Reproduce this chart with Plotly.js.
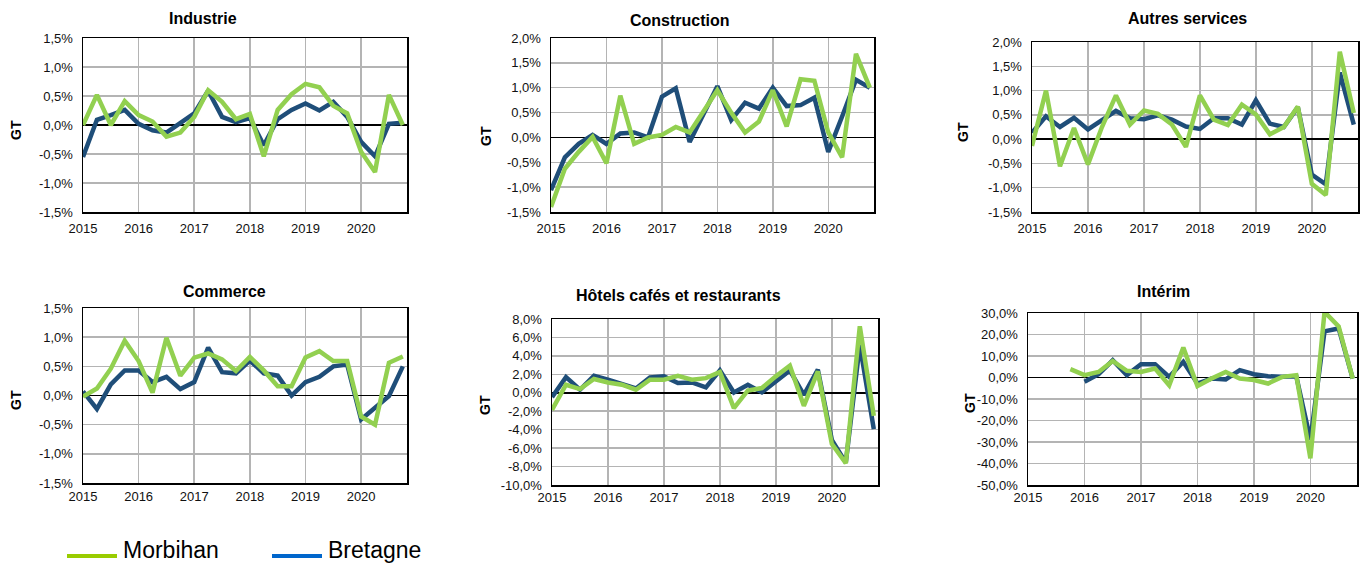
<!DOCTYPE html>
<html><head><meta charset="utf-8">
<script src="https://cdn.plot.ly/plotly-3.0.1.min.js"></script>
<style>html,body{margin:0;padding:0;background:#fff;}#chart{width:1361px;height:565px;}</style>
</head><body><div id="chart"></div>
<script>
const quarters = ['2015T1','2015T2','2015T3','2015T4','2016T1','2016T2','2016T3','2016T4',
  '2017T1','2017T2','2017T3','2017T4','2018T1','2018T2','2018T3','2018T4',
  '2019T1','2019T2','2019T3','2019T4','2020T1','2020T2','2020T3','2020T4'];
const yearTicks = ['2015T1','2016T1','2017T1','2018T1','2019T1','2020T1'];
const yearLabels = ['2015','2016','2017','2018','2019','2020'];
const seriesNames = ['Morbihan','Bretagne'];
const panelTitles = ['Industrie','Construction','Autres services','Commerce','Hôtels cafés et restaurants','Intérim'];

const industrieMorbihan = [0, 0.52, 0, 0.41, 0.17, 0.06, -0.2, -0.13, 0.14, 0.6, 0.4, 0.1, 0.19, -0.54, 0.26, 0.53, 0.71, 0.65, 0.33, 0.2, -0.46, -0.81, 0.52, 0];
const industrieBretagne = [-0.55, 0.09, 0.17, 0.26, 0.02, -0.09, -0.13, 0.03, 0.2, 0.59, 0.14, 0.05, 0.12, -0.35, 0.1, 0.26, 0.37, 0.25, 0.4, 0.14, -0.29, -0.54, 0.02, 0.04];
const constructionMorbihan = [-1.4, -0.63, -0.29, 0.01, -0.52, 0.84, -0.13, 0, 0.05, 0.21, 0.1, 0.52, 0.95, 0.5, 0.1, 0.32, 0.95, 0.22, 1.17, 1.14, 0.1, -0.4, 1.68, 1.0];
const constructionBretagne = [-1.06, -0.4, -0.13, 0.05, -0.13, 0.08, 0.1, 0, 0.82, 0.99, -0.09, 0.47, 1.03, 0.35, 0.7, 0.58, 1.0, 0.63, 0.65, 0.8, -0.29, 0.42, 1.16, 1.0];
const autresMorbihan = [-0.14, 1.0, -0.56, 0.23, -0.52, 0.25, 0.9, 0.3, 0.59, 0.52, 0.3, -0.16, 0.9, 0.4, 0.29, 0.71, 0.51, 0.1, 0.25, 0.67, -0.92, -1.15, 1.8, 0.54];
const autresBretagne = [0.13, 0.47, 0.25, 0.44, 0.2, 0.4, 0.58, 0.43, 0.41, 0.49, 0.4, 0.26, 0.21, 0.43, 0.43, 0.3, 0.8, 0.32, 0.25, 0.66, -0.73, -0.93, 1.37, 0.3];
const commerceMorbihan = [-0.02, 0.12, 0.46, 0.94, 0.59, 0.05, 0.99, 0.34, 0.65, 0.72, 0.62, 0.42, 0.66, 0.43, 0.16, 0.16, 0.65, 0.76, 0.59, 0.59, -0.36, -0.5, 0.56, 0.67];
const commerceBretagne = [0.07, -0.23, 0.19, 0.43, 0.43, 0.23, 0.32, 0.11, 0.23, 0.82, 0.4, 0.38, 0.6, 0.38, 0.34, 0.0, 0.23, 0.32, 0.5, 0.53, -0.41, -0.21, -0.01, 0.5];
const hotelsMorbihan = [-1.85, 0.87, 0.4, 1.49, 1.12, 0.87, 0.33, 1.41, 1.41, 1.85, 1.41, 1.59, 2.25, -1.67, 0.25, 0.51, 1.78, 2.93, -1.41, 2.32, -5.54, -7.64, 7.21, -2.5];
const hotelsBretagne = [-0.47, 1.7, 0.33, 1.85, 1.41, 0.94, 0.47, 1.67, 1.78, 1.05, 1.12, 0.58, 2.43, 0.04, 0.87, 0.04, 1.23, 2.43, -0.22, 2.5, -5.1, -7.57, 5.2, -3.95];
const interimMorbihan = [null, null, null, 3.9, 1.1, 2.6, 7.7, 3.1, 2.6, 4.2, -3.6, 13.9, -4.0, -0.5, 2.6, -0.5, -1.2, -2.8, 0.3, 1.1, -37.6, 30.5, 23.8, -0.5];
const interimBretagne = [null, null, null, null, -2.0, 1.5, 8.0, 1.1, 6.2, 6.2, 0.3, 7.3, -2.8, -0.5, -0.9, 3.4, 1.5, 0.6, 0.3, 0.6, -29, 21.5, 22.8, -0.5];

const W = 1361, H = 565;
const GREEN = '#92d050', BLUE = '#1f4e79';
const FONT = 'Liberation Sans, Arial, sans-serif';

// panel layout in pixels: left, right, top, bottom, title center x/y, GT x/y, y range, tick step, x label standoff
const panels = [
  {m: industrieMorbihan, b: industrieBretagne, L: 83, R: 407, T: 38, B: 212, tx: 203, ty: 19, gx: 16, gy: 130, lo: -1.5, hi: 1.5, step: 0.5, xs: 4},
  {m: constructionMorbihan, b: constructionBretagne, L: 551, R: 874, T: 38, B: 212, tx: 680, ty: 20, gx: 486, gy: 136, lo: -1.5, hi: 2.0, step: 0.5, xs: 4},
  {m: autresMorbihan, b: autresBretagne, L: 1032, R: 1358, T: 42, B: 212, tx: 1187, ty: 19, gx: 963, gy: 132, lo: -1.5, hi: 2.0, step: 0.5, xs: 4},
  {m: commerceMorbihan, b: commerceBretagne, L: 83, R: 407, T: 308, B: 483, tx: 224, ty: 291, gx: 16, gy: 400, lo: -1.5, hi: 1.5, step: 0.5, xs: 1},
  {m: hotelsMorbihan, b: hotelsBretagne, L: 552, R: 878, T: 319, B: 485, tx: 678, ty: 295, gx: 485, gy: 405, lo: -10, hi: 8, step: 2, xs: 0},
  {m: interimMorbihan, b: interimBretagne, L: 1028, R: 1357, T: 313, B: 485, tx: 1163, ty: 291, gx: 970, gy: 403, lo: -50, hi: 30, step: 10, xs: 0}
];

const fmt = v => (v < 0 ? '-' : '') + Math.abs(v).toFixed(1).replace('.', ',') + '%';

const data = [];
const layout = {
  width: W, height: H,
  margin: {l: 0, r: 0, t: 0, b: 0},
  paper_bgcolor: '#fff', plot_bgcolor: '#fff',
  showlegend: false,
  font: {family: FONT, size: 13, color: '#111'},
  annotations: [], shapes: []
};

panels.forEach((p, i) => {
  const n = i + 1;
  const xa = 'x' + (n === 1 ? '' : n), ya = 'y' + (n === 1 ? '' : n);
  data.push({x: quarters, y: p.b, xaxis: xa, yaxis: ya, type: 'scatter', mode: 'lines', name: seriesNames[1],
    line: {color: BLUE, width: 4.5}, connectgaps: false, hoverinfo: 'skip'});
  data.push({x: quarters, y: p.m, xaxis: xa, yaxis: ya, type: 'scatter', mode: 'lines', name: seriesNames[0],
    line: {color: GREEN, width: 4.5}, connectgaps: false, hoverinfo: 'skip'});
  const tv = [];
  for (let v = p.lo; v <= p.hi + 1e-9; v += p.step) tv.push(Math.round(v * 100) / 100);
  layout['xaxis' + (n === 1 ? '' : n)] = {
    domain: [p.L / W, p.R / W], anchor: ya, type: 'category', categoryorder: 'array', categoryarray: quarters,
    range: [0, 23.3], tickmode: 'array', tickvals: yearTicks, ticktext: yearLabels,
    showgrid: true, gridcolor: '#b4b4b4', gridwidth: 1.5, showline: true, mirror: true, linecolor: '#000', linewidth: 1.5,
    ticks: '', tickfont: {family: FONT, size: 13, color: '#111'}, ticklabelstandoff: p.xs, fixedrange: true, zeroline: false
  };
  layout['yaxis' + (n === 1 ? '' : n)] = {
    domain: [1 - p.B / H, 1 - p.T / H], anchor: xa, range: [p.lo, p.hi], tickmode: 'array', tickvals: tv, ticktext: tv.map(fmt),
    showgrid: true, gridcolor: '#b4b4b4', gridwidth: 1.5, showline: true, mirror: true, linecolor: '#000', linewidth: 1.5,
    zeroline: true, zerolinecolor: '#000', zerolinewidth: 1.5,
    ticks: '', tickfont: {family: FONT, size: 13, color: '#111'}, ticklabelstandoff: 6, fixedrange: true
  };
  layout.annotations.push({text: '<b>' + panelTitles[i] + '</b>', xref: 'paper', yref: 'paper', x: p.tx / W, y: 1 - p.ty / H,
    xanchor: 'center', yanchor: 'middle', showarrow: false, font: {family: FONT, size: 16, color: '#000'}});
  layout.annotations.push({text: '<b>GT</b>', xref: 'paper', yref: 'paper', x: p.gx / W, y: 1 - p.gy / H, textangle: -90,
    xanchor: 'center', yanchor: 'middle', showarrow: false, font: {family: FONT, size: 14, color: '#000'}});
});

// legend drawn at the bottom left
const legendItems = [{name: seriesNames[0], color: '#99cc00', x0: 67, x1: 117, tx: 121},
                     {name: seriesNames[1], color: '#0066cc', x0: 272, x1: 322, tx: 326}];
legendItems.forEach(it => {
  layout.shapes.push({type: 'line', xref: 'paper', yref: 'paper', x0: it.x0 / W, x1: it.x1 / W, y0: 1 - 556 / H, y1: 1 - 556 / H,
    line: {color: it.color, width: 4}});
  layout.annotations.push({text: it.name, xref: 'paper', yref: 'paper', x: it.tx / W, y: 1 - 550 / H, xanchor: 'left', yanchor: 'middle',
    showarrow: false, font: {family: FONT, size: 23, color: '#000'}});
});

Plotly.newPlot('chart', data, layout, {displayModeBar: false, staticPlot: true});
</script></body></html>
